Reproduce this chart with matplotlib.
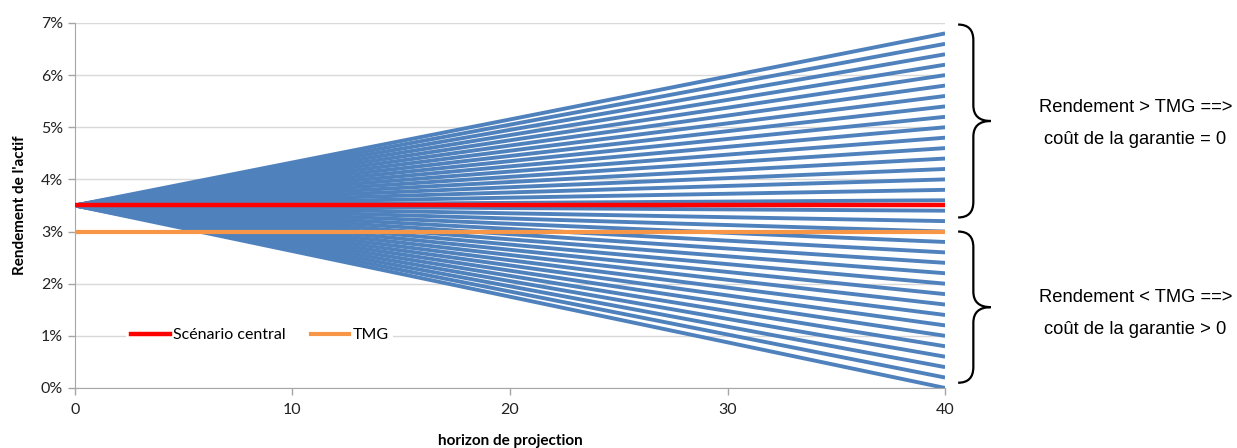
import matplotlib.pyplot as plt
import numpy as np
from matplotlib.path import Path
from matplotlib.patches import PathPatch
from matplotlib.ticker import FuncFormatter

# horizon de projection (années)
horizon = [0, 40]
rdt_depart = 3.5  # rendement initial en %
# rendements atteints a l'horizon 40 pour chaque scénario (%)
rdt_fin = [6.8, 6.6, 6.4, 6.2, 6.0, 5.8, 5.6, 5.4, 5.2, 5.0, 4.8, 4.6, 4.4, 4.2,
           4.0, 3.8, 3.6, 3.4, 3.2, 3.0, 2.8, 2.6, 2.4, 2.2, 2.0, 1.8, 1.6, 1.4,
           1.2, 1.0, 0.8, 0.6, 0.4, 0.2, 0.0]
scenario_central = [3.5, 3.5]
tmg = [3.0, 3.0]

texte_haut = ["Rendement > TMG ==>", "coût de la garantie = 0"]
texte_bas = ["Rendement < TMG ==>", "coût de la garantie > 0"]

plt.rcParams['font.family'] = ['Lato', 'DejaVu Sans']

fig = plt.figure(figsize=(12.37, 4.48), dpi=100)
ax = fig.add_axes([0.0606, 0.134, 0.7034, 0.8147])

for y_end in rdt_fin:
    ax.plot(horizon, [rdt_depart, y_end], color='#4F81BD', lw=2.8,
            solid_capstyle='butt', zorder=2)
ax.plot(horizon, scenario_central, color='#FF0000', lw=3.2, label='Scénario central', zorder=3)
ax.plot(horizon, tmg, color='#F79646', lw=3.0, label='TMG', zorder=3)

ax.set_xlim(0, 40)
ax.set_ylim(0, 7)
ax.set_xticks([0, 10, 20, 30, 40])
ax.set_yticks(range(0, 8))
ax.yaxis.set_major_formatter(FuncFormatter(lambda v, p: f"{v:.0f}%"))
ax.grid(axis='y', color='#D9D9D9', lw=1)
ax.set_axisbelow(True)
for s in ['top', 'right']:
    ax.spines[s].set_visible(False)
for s in ['left', 'bottom']:
    ax.spines[s].set_color('#A6A6A6')
ax.tick_params(axis='both', colors='#A6A6A6', labelcolor='#222222', labelsize=11.5,
               length=5, width=1)
ax.tick_params(axis='x', pad=6)

ax.set_ylabel("Rendement de l'actif", fontweight='bold', fontsize=11, labelpad=10)
ax.set_xlabel("horizon de projection", fontweight='bold', fontsize=11, labelpad=12)

leg = ax.legend(loc='center', bbox_to_anchor=(0.2126, 0.145), ncol=2, fontsize=11.5,
                frameon=True, fancybox=False, handlelength=2.4, columnspacing=1.6,
                handletextpad=0.2, borderpad=0.3)
leg.get_frame().set_edgecolor('none')
leg.get_frame().set_facecolor('white')
leg.get_frame().set_alpha(1)


def accolade(y_haut, y_bas, xa=40.6, xb=41.3, xc=42.1, dy=0.3):
    ym = (y_haut + y_bas) / 2
    verts = [(xa, y_haut), (xb, y_haut), (xb, y_haut - dy),
             (xb, ym + dy), (xb, ym), (xc, ym),
             (xb, ym), (xb, ym - dy),
             (xb, y_bas + dy), (xb, y_bas), (xa, y_bas)]
    codes = [Path.MOVETO, Path.CURVE3, Path.CURVE3,
             Path.LINETO, Path.CURVE3, Path.CURVE3,
             Path.CURVE3, Path.CURVE3,
             Path.LINETO, Path.CURVE3, Path.CURVE3]
    ax.add_patch(PathPatch(Path(verts, codes), fill=False, lw=1.6,
                           edgecolor='black', clip_on=False))


accolade(6.97, 3.27)
accolade(3.0, 0.1)

for lignes, y0 in [(texte_haut, 5.37), (texte_bas, 1.73)]:
    ax.text(48.75, y0, lignes[0], ha='center', va='center', fontsize=13.2,
            family='Liberation Sans', clip_on=False)
    ax.text(48.75, y0 - 0.61, lignes[1], ha='center', va='center', fontsize=13.2,
            family='Liberation Sans', clip_on=False)

fig.savefig('out.png', dpi=100)
